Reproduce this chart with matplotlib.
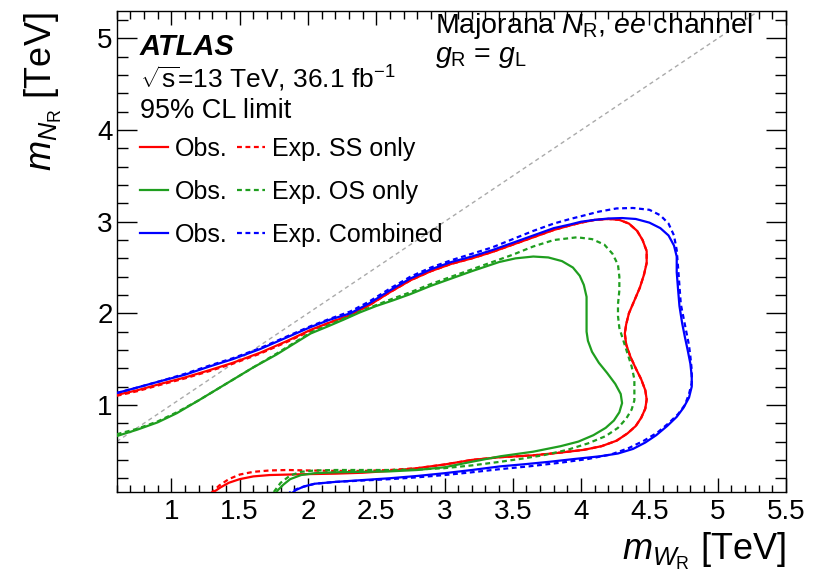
import matplotlib
matplotlib.use("Agg")
import matplotlib.pyplot as plt
from matplotlib.ticker import MultipleLocator

plt.rcParams['font.family'] = ['Liberation Sans', 'DejaVu Sans']
plt.rcParams['mathtext.fontset'] = 'custom'
plt.rcParams['mathtext.rm'] = 'Liberation Sans'
plt.rcParams['mathtext.it'] = 'Liberation Sans:italic'
plt.rcParams['mathtext.bf'] = 'Liberation Sans:bold'

# ---- data (m_WR [TeV], m_NR [TeV]) ----
obs_ss_x = [0.60, 0.75, 0.92, 1.10, 1.28, 1.45, 1.65, 1.85, 2.02, 2.16, 2.31, 2.45, 2.60, 2.75, 2.90, 3.05, 3.20, 3.35, 3.50, 3.65, 3.80, 3.92, 4.00, 4.10, 4.20, 4.28, 4.35, 4.41, 4.45, 4.48, 4.48, 4.46, 4.43, 4.39, 4.35, 4.33, 4.32, 4.33, 4.36, 4.40, 4.44, 4.47, 4.48, 4.47, 4.44, 4.40, 4.34, 4.26, 4.15, 4.02, 3.85, 3.65, 3.41, 3.20, 3.00, 2.80, 2.60, 2.40, 2.20, 2.00, 1.85, 1.72, 1.60, 1.50, 1.42, 1.36, 1.31, 1.28]
obs_ss_y = [1.11, 1.16, 1.23, 1.30, 1.38, 1.46, 1.57, 1.70, 1.82, 1.90, 1.98, 2.09, 2.23, 2.36, 2.46, 2.54, 2.60, 2.67, 2.75, 2.83, 2.91, 2.96, 2.99, 3.02, 3.03, 3.02, 2.98, 2.90, 2.80, 2.68, 2.55, 2.42, 2.28, 2.14, 2.00, 1.88, 1.78, 1.66, 1.53, 1.40, 1.28, 1.16, 1.06, 0.96, 0.86, 0.77, 0.69, 0.61, 0.55, 0.51, 0.48, 0.45, 0.43, 0.40, 0.35, 0.31, 0.28, 0.26, 0.25, 0.245, 0.24, 0.235, 0.22, 0.19, 0.15, 0.10, 0.05, 0.01]

exp_ss_x = [0.60, 0.75, 0.92, 1.10, 1.28, 1.45, 1.65, 1.85, 2.02, 2.16, 2.31, 2.45, 2.60, 2.75, 2.90, 3.05, 3.20, 3.35, 3.50, 3.65, 3.80, 3.92, 4.00, 4.10, 4.20, 4.28, 4.35, 4.41, 4.45, 4.48, 4.48, 4.46, 4.43, 4.39, 4.35, 4.33, 4.32, 4.33, 4.36, 4.40, 4.44, 4.47, 4.48, 4.47, 4.44, 4.40, 4.34, 4.26, 4.15, 4.02, 3.85, 3.65, 3.41, 3.20, 3.00, 2.80, 2.60, 2.40, 2.20, 2.00, 1.85, 1.72, 1.60, 1.50, 1.42, 1.35, 1.30, 1.27]
exp_ss_y = [1.10, 1.15, 1.22, 1.29, 1.37, 1.45, 1.56, 1.69, 1.81, 1.90, 1.98, 2.09, 2.23, 2.36, 2.46, 2.54, 2.60, 2.67, 2.75, 2.83, 2.91, 2.96, 2.99, 3.02, 3.03, 3.02, 2.98, 2.90, 2.80, 2.68, 2.55, 2.42, 2.28, 2.14, 2.00, 1.88, 1.78, 1.66, 1.53, 1.40, 1.28, 1.16, 1.06, 0.96, 0.86, 0.77, 0.69, 0.61, 0.55, 0.51, 0.48, 0.45, 0.43, 0.40, 0.35, 0.31, 0.29, 0.28, 0.28, 0.285, 0.29, 0.285, 0.27, 0.24, 0.19, 0.12, 0.05, 0.01]

obs_os_x = [0.60, 0.75, 0.90, 1.04, 1.20, 1.40, 1.60, 1.77, 1.90, 2.02, 2.15, 2.26, 2.38, 2.50, 2.62, 2.75, 2.90, 3.05, 3.20, 3.30, 3.40, 3.52, 3.65, 3.76, 3.86, 3.94, 3.99, 4.02, 4.04, 4.04, 4.04, 4.04, 4.05, 4.08, 4.13, 4.19, 4.25, 4.29, 4.30, 4.28, 4.24, 4.18, 4.09, 3.98, 3.85, 3.65, 3.41, 3.20, 3.00, 2.80, 2.60, 2.40, 2.20, 2.05, 1.95, 1.87, 1.82, 1.78, 1.75]
obs_os_y = [0.66, 0.73, 0.81, 0.91, 1.05, 1.23, 1.41, 1.55, 1.67, 1.78, 1.86, 1.93, 2.01, 2.08, 2.14, 2.21, 2.30, 2.38, 2.46, 2.51, 2.56, 2.60, 2.62, 2.61, 2.57, 2.50, 2.41, 2.31, 2.18, 2.05, 1.92, 1.80, 1.70, 1.58, 1.46, 1.35, 1.23, 1.12, 1.02, 0.92, 0.83, 0.75, 0.67, 0.60, 0.55, 0.49, 0.44, 0.38, 0.32, 0.29, 0.275, 0.27, 0.265, 0.255, 0.235, 0.19, 0.13, 0.07, 0.01]

exp_os_x = [0.60, 0.75, 0.90, 1.04, 1.20, 1.40, 1.60, 1.77, 1.90, 2.02, 2.15, 2.26, 2.38, 2.50, 2.62, 2.75, 2.90, 3.05, 3.20, 3.35, 3.50, 3.65, 3.80, 3.97, 4.08, 4.17, 4.23, 4.27, 4.28, 4.28, 4.27, 4.27, 4.28, 4.31, 4.34, 4.37, 4.39, 4.39, 4.39, 4.37, 4.33, 4.27, 4.18, 4.05, 3.90, 3.72, 3.55, 3.41, 3.20, 3.00, 2.80, 2.60, 2.40, 2.20, 2.05, 1.95, 1.87, 1.80, 1.76, 1.73]
exp_os_y = [0.68, 0.74, 0.82, 0.92, 1.05, 1.23, 1.41, 1.56, 1.68, 1.79, 1.87, 1.94, 2.02, 2.09, 2.16, 2.23, 2.32, 2.40, 2.48, 2.56, 2.64, 2.73, 2.80, 2.83, 2.81, 2.75, 2.65, 2.53, 2.40, 2.25, 2.10, 1.97, 1.84, 1.70, 1.56, 1.42, 1.28, 1.16, 1.05, 0.95, 0.85, 0.75, 0.66, 0.58, 0.51, 0.45, 0.41, 0.38, 0.34, 0.31, 0.295, 0.29, 0.29, 0.29, 0.285, 0.27, 0.23, 0.15, 0.07, 0.01]

obs_comb_x = [0.60, 0.75, 0.92, 1.10, 1.28, 1.45, 1.65, 1.85, 2.02, 2.16, 2.31, 2.45, 2.60, 2.75, 2.90, 3.05, 3.20, 3.35, 3.50, 3.65, 3.80, 3.92, 4.00, 4.10, 4.20, 4.30, 4.40, 4.50, 4.58, 4.64, 4.68, 4.70, 4.70, 4.71, 4.72, 4.74, 4.76, 4.78, 4.80, 4.81, 4.81, 4.79, 4.75, 4.70, 4.63, 4.55, 4.47, 4.38, 4.27, 4.14, 3.95, 3.77, 3.60, 3.41, 3.20, 3.00, 2.80, 2.60, 2.40, 2.20, 2.05, 1.97, 1.91, 1.87]
obs_comb_y = [1.13, 1.19, 1.26, 1.33, 1.42, 1.50, 1.61, 1.74, 1.85, 1.93, 2.00, 2.11, 2.25, 2.38, 2.48, 2.56, 2.62, 2.69, 2.77, 2.85, 2.93, 2.97, 3.00, 3.02, 3.035, 3.04, 3.03, 2.99, 2.93, 2.85, 2.74, 2.62, 2.45, 2.26, 2.08, 1.89, 1.74, 1.60, 1.45, 1.31, 1.20, 1.08, 0.97, 0.87, 0.77, 0.67, 0.59, 0.52, 0.47, 0.44, 0.41, 0.38, 0.355, 0.33, 0.29, 0.255, 0.225, 0.20, 0.18, 0.16, 0.14, 0.11, 0.07, 0.02]

exp_comb_x = [0.60, 0.75, 0.92, 1.10, 1.28, 1.45, 1.65, 1.85, 2.02, 2.16, 2.31, 2.45, 2.60, 2.75, 2.90, 3.05, 3.20, 3.35, 3.50, 3.65, 3.80, 3.92, 4.00, 4.13, 4.26, 4.38, 4.50, 4.58, 4.64, 4.68, 4.70, 4.71, 4.72, 4.73, 4.75, 4.77, 4.79, 4.80, 4.81, 4.81, 4.79, 4.76, 4.71, 4.64, 4.56, 4.46, 4.35, 4.22, 4.05, 3.85, 3.62, 3.41, 3.20, 3.00, 2.80, 2.60, 2.40, 2.20, 2.05, 1.95, 1.88, 1.84]
exp_comb_y = [1.13, 1.19, 1.26, 1.34, 1.43, 1.51, 1.62, 1.75, 1.86, 1.94, 2.02, 2.13, 2.27, 2.40, 2.50, 2.58, 2.65, 2.72, 2.81, 2.90, 2.98, 3.03, 3.06, 3.11, 3.145, 3.15, 3.13, 3.07, 2.98, 2.85, 2.69, 2.50, 2.30, 2.10, 1.95, 1.80, 1.65, 1.53, 1.38, 1.24, 1.12, 1.00, 0.90, 0.80, 0.70, 0.61, 0.53, 0.46, 0.41, 0.37, 0.33, 0.30, 0.265, 0.235, 0.21, 0.19, 0.175, 0.16, 0.14, 0.10, 0.06, 0.01]

x_ticks = [1, 1.5, 2, 2.5, 3, 3.5, 4, 4.5, 5, 5.5]
x_tick_labels = ['1', '1.5', '2', '2.5', '3', '3.5', '4', '4.5', '5', '5.5']
y_ticks = [1, 2, 3, 4, 5]
y_tick_labels = ['1', '2', '3', '4', '5']

RED = '#ff0000'
GREEN = '#1f9e1f'
BLUE = '#0000ff'
DASH = (0, (2.2, 1.6))

fig = plt.figure(figsize=(8.15, 5.85), dpi=100)
ax = fig.add_axes([0.1432, 0.159, 0.8212, 0.8222])
ax.set_xlim(0.6, 5.5)
ax.set_ylim(0.05, 5.3)

ax.axline((1, 1), slope=1, color='#aaaaaa', lw=1.0, ls=(0, (3, 2.5)), zorder=1)

lw = 1.6
kw = dict(lw=lw, solid_joinstyle='round', dash_joinstyle='round')
h_exp_ss, = ax.plot(exp_ss_x, exp_ss_y, color=RED, ls=DASH, zorder=3, **kw)
h_obs_ss, = ax.plot(obs_ss_x, obs_ss_y, color=RED, zorder=3, **kw)
h_obs_os, = ax.plot(obs_os_x, obs_os_y, color=GREEN, zorder=3, **kw)
h_exp_os, = ax.plot(exp_os_x, exp_os_y, color=GREEN, ls=DASH, zorder=3, **kw)
h_obs_c, = ax.plot(obs_comb_x, obs_comb_y, color=BLUE, zorder=4, **kw)
h_exp_c, = ax.plot(exp_comb_x, exp_comb_y, color=BLUE, ls=DASH, zorder=4, **kw)

# ticks
ax.set_xticks(x_ticks)
ax.set_xticklabels(x_tick_labels)
ax.set_yticks(y_ticks)
ax.set_yticklabels(y_tick_labels)
ax.xaxis.set_minor_locator(MultipleLocator(0.1))
ax.yaxis.set_minor_locator(MultipleLocator(0.2))
ax.tick_params(axis='both', which='both', direction='in', top=True, right=True,
               labelsize=20, width=1.0, color='black')
ax.tick_params(axis='x', which='major', length=10.3, pad=5)
ax.tick_params(axis='x', which='minor', length=5.4)
ax.tick_params(axis='y', which='major', length=14.4, pad=3)
ax.tick_params(axis='y', which='minor', length=8)
for s in ax.spines.values():
    s.set_linewidth(1.0)

# axis labels
ax.text(1.0, -0.141, r'$m_{W_{\mathrm{R}}}$ [TeV]', transform=ax.transAxes,
        ha='right', va='baseline', fontsize=26)
ax.text(-0.0967, 0.998, r'$m_{N_{\mathrm{R}}}$ [TeV]', transform=ax.transAxes,
        ha='right', va='baseline', rotation=90, rotation_mode='anchor', fontsize=26)

# annotations
ax.text(0.0348, 0.9085, 'ATLAS', transform=ax.transAxes, fontsize=21,
        fontweight='bold', fontstyle='italic', va='baseline')
ax.text(0.0348, 0.84, r'$\sqrt{\mathrm{s}}$=13 TeV, 36.1 fb$^{-1}$', transform=ax.transAxes,
        fontsize=19, va='baseline')
ax.text(0.0348, 0.7775, '95% CL limit', transform=ax.transAxes, fontsize=19.5, va='baseline')
ax.text(0.4756, 0.954, r'Majorana $N_{\mathrm{R}}$, $ee$ channel', transform=ax.transAxes,
        fontsize=20.5, va='baseline')
ax.text(0.4756, 0.894, r'$g_{\mathrm{R}}$ = $g_{\mathrm{L}}$', transform=ax.transAxes,
        fontsize=20.5, va='baseline')

# legend
handles = [h_obs_ss, h_obs_os, h_obs_c, h_exp_ss, h_exp_os, h_exp_c]
labels = ['Obs.', 'Obs.', 'Obs.', 'Exp. SS only', 'Exp. OS only', 'Exp. Combined']
leg = ax.legend(handles, labels, ncol=2, loc='upper left', bbox_to_anchor=(0.0348, 0.738),
                frameon=False, fontsize=18, handlelength=1.12, handletextpad=0.28,
                columnspacing=0.36, labelspacing=0.75, borderpad=0, borderaxespad=0)

fig.savefig('out.png', dpi=100)
